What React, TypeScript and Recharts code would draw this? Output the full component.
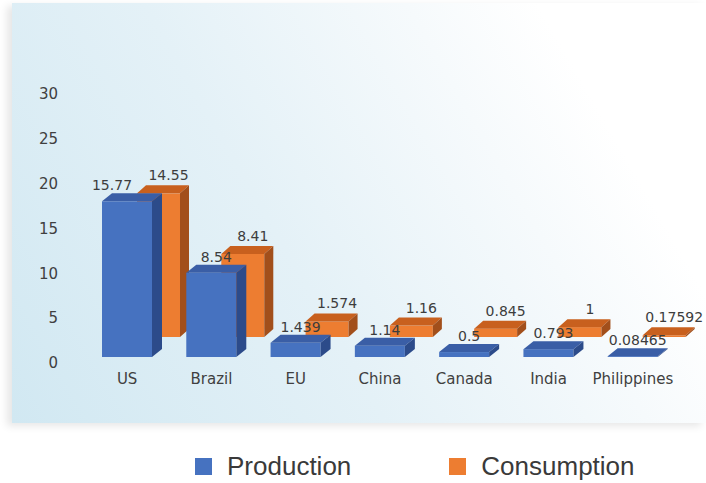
import { BarChart, Bar, XAxis, YAxis, Legend, LabelList } from 'recharts'

const categories = ['US', 'Brazil', 'EU', 'China', 'Canada', 'India', 'Philippines']
const production = [15.77, 8.54, 1.439, 1.14, 0.5, 0.793, 0.08465]
const consumption = [14.55, 8.41, 1.574, 1.16, 0.845, 1, 0.17592]
const yTicks = [0, 5, 10, 15, 20, 25, 30]

const data = categories.map((name, i) => ({
  name,
  production: production[i],
  consumption: consumption[i],
}))

const BLUE = { front: '#4672c0', top: '#3a5ea6', side: '#2c4b8a' }
const ORANGE = { front: '#ed7d31', top: '#c8601e', side: '#a24f1b' }

// depth placement of the two rows of the 3D chart
const FRONT = { shiftX: 0, shiftY: -6, dx: 10, dy: -8, colors: BLUE }
const BACK = { shiftX: 31, shiftY: -26, dx: 9, dy: -8, colors: ORANGE }

type Row = typeof FRONT

function box3d(row: Row) {
  return (props: any) => {
    const { x, y, width, height } = props
    const { shiftX, shiftY, dx, dy, colors } = row
    const x0 = x + shiftX
    const y0 = y + shiftY
    const x1 = x0 + width
    const y1 = y0 + height
    return (
      <g>
        <rect x={x0} y={y0} width={width} height={height} fill={colors.front} />
        <polygon
          points={`${x0},${y0} ${x0 + dx},${y0 + dy} ${x1 + dx},${y0 + dy} ${x1},${y0}`}
          fill={colors.top}
        />
        <polygon
          points={`${x1},${y0} ${x1 + dx},${y0 + dy} ${x1 + dx},${y1 + dy} ${x1},${y1}`}
          fill={colors.side}
        />
      </g>
    )
  }
}

const FRONT_ABOVE = 16
const BACK_ABOVE = 18

function valueLabel(row: Row, offX: number, above: number, avoid?: number[]) {
  return (props: any) => {
    const vb = props.viewBox ?? props
    const x = (vb.x ?? props.x) + row.shiftX
    const y = (vb.y ?? props.y) + row.shiftY
    const w = vb.width ?? props.width
    const h = vb.height ?? props.height
    let nudge = 0
    // move a front label aside when it would sit on the label of the bar behind
    if (avoid && props.value) {
      const k = h / Number(props.value)
      const backY = y - row.shiftY + h + BACK.shiftY - avoid[props.index] * k - BACK_ABOVE
      if (Math.abs(y - above - backY) < 14) nudge = -20
    }
    return (
      <text
        x={x + w / 2 + offX + nudge}
        y={y - above + 5}
        textAnchor="middle"
        fontFamily="'DejaVu Sans', sans-serif"
        fontSize={14}
        fill="#3d3d3d"
      >
        {String(props.value)}
      </text>
    )
  }
}

function renderLegend(props: any) {
  const items = [...(props.payload ?? [])].reverse()
  return (
    <div style={{ display: 'flex', alignItems: 'center', paddingLeft: 195 }}>
      {items.map((it: any, i: number) => (
        <div
          key={it.value}
          style={{ display: 'flex', alignItems: 'center', marginRight: i === 0 ? 98 : 0 }}
        >
          <span style={{ width: 17, height: 17, background: it.color, marginRight: 15 }} />
          <span
            style={{
              fontFamily: "'Liberation Sans', Arial, sans-serif",
              fontSize: 26,
              color: '#3a3a3a',
              lineHeight: '30px',
            }}
          >
            {it.value}
          </span>
        </div>
      ))}
    </div>
  )
}

const tickStyle = { fill: '#404040', fontSize: 15, fontFamily: "'DejaVu Sans', sans-serif" }

export default function App() {
  return (
    <div style={{ position: 'absolute', left: 0, top: 0, width: 706, height: 483, background: '#fff' }}>
      <div
        style={{
          position: 'absolute',
          left: 12,
          top: 3,
          width: 694,
          height: 420,
          background: 'linear-gradient(60deg, #d1e8f2 0%, #e4f1f7 40%, #f6fafc 68%, #ffffff 82%)',
          boxShadow: '-5px 3px 8px rgba(0,0,0,0.10)',
        }}
      />
      <BarChart
        width={706}
        height={483}
        data={data}
        margin={{ top: 94, right: 31, bottom: 90, left: 25 }}
        style={{ position: 'absolute', left: 0, top: 0 }}
      >
        <XAxis
          xAxisId="front"
          dataKey="name"
          tick={tickStyle}
          tickLine={false}
          axisLine={false}
          tickMargin={4}
          height={30}
          interval={0}
        />
        <XAxis xAxisId="back" dataKey="name" hide height={0} />
        <YAxis
          yAxisId="left"
          type="number"
          domain={[0, 30]}
          allowDataOverflow
          ticks={yTicks}
          tick={tickStyle}
          tickLine={false}
          axisLine={false}
          tickSize={0}
          tickMargin={27}
          width={60}
        />
        <YAxis yAxisId="bars" type="number" domain={[0, 27.25]} allowDataOverflow hide width={0} />
        <Legend
          verticalAlign="middle"
          align="center"
          wrapperStyle={{ top: 451, left: 0, width: 706 }}
          content={renderLegend}
        />
        <Bar
          dataKey="consumption"
          name="Consumption"
          xAxisId="back"
          yAxisId="bars"
          fill={ORANGE.front}
          barSize={43}
          shape={box3d(BACK)}
          isAnimationActive={false}
        >
          <LabelList dataKey="consumption" content={valueLabel(BACK, 10, BACK_ABOVE)} />
        </Bar>
        <Bar
          dataKey="production"
          name="Production"
          xAxisId="front"
          yAxisId="bars"
          fill={BLUE.front}
          barSize={50}
          shape={box3d(FRONT)}
          isAnimationActive={false}
        >
          <LabelList
            dataKey="production"
            content={valueLabel(FRONT, 5, FRONT_ABOVE, consumption)}
          />
        </Bar>
      </BarChart>
    </div>
  )
}
